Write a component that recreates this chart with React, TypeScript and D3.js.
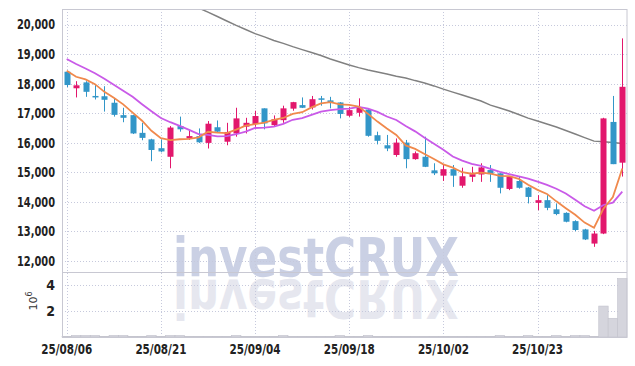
import { useEffect, useRef } from 'react';
import * as d3 from 'd3';

// trading days (yy/mm/dd)
const dates = [
  '25/08/06', '25/08/07', '25/08/08', '25/08/11', '25/08/12', '25/08/13', '25/08/14', '25/08/18', '25/08/19', '25/08/20',
  '25/08/21', '25/08/22', '25/08/25', '25/08/26', '25/08/27', '25/08/28', '25/08/29', '25/09/01', '25/09/02', '25/09/03',
  '25/09/04', '25/09/05', '25/09/08', '25/09/09', '25/09/10', '25/09/11', '25/09/12', '25/09/15', '25/09/16', '25/09/17',
  '25/09/18', '25/09/19', '25/09/22', '25/09/23', '25/09/24', '25/09/25', '25/09/26', '25/09/29', '25/09/30', '25/10/01',
  '25/10/02', '25/10/10', '25/10/13', '25/10/14', '25/10/15', '25/10/16', '25/10/17', '25/10/20', '25/10/21', '25/10/22',
  '25/10/23', '25/10/24', '25/10/27', '25/10/28', '25/10/29', '25/10/30', '25/10/31', '25/11/03', '25/11/04', '25/11/05',
];

const opens = [
  18400, 17840, 18040, 17580, 17570, 17350, 16930, 16930, 16330, 16110,
  15810, 15520, 16560, 16140, 16220, 15990, 16520, 16030, 16310, 16540,
  16630, 17160, 16590, 16760, 17150, 17270, 17190, 17500, 17430, 17360,
  16910, 17010, 17120, 16250, 15910, 15580, 16000, 15440, 15520, 15060,
  14880, 15100, 14540, 14840, 14920, 15070, 14960, 14430, 14700, 14480,
  13960, 14050, 13740, 13620, 13340, 13060, 12580, 12920, 16700, 15320,
];
const highs = [
  18420, 18080, 18080, 17980, 17910, 17500, 17180, 16940, 16670, 16130,
  16110, 16560, 16880, 16420, 16480, 16730, 16750, 16670, 17180, 16840,
  17080, 17160, 16920, 17250, 17380, 17530, 17580, 17580, 17550, 17370,
  17210, 17500, 17160, 16370, 16260, 16140, 16090, 15700, 16200, 15300,
  15240, 15240, 15150, 15180, 15300, 15240, 14960, 14850, 14840, 14500,
  14220, 14220, 13940, 13640, 13370, 13080, 13010, 16840, 17580, 19530,
];
const lows = [
  17880, 17530, 17550, 17460, 17050, 16880, 16690, 16290, 16080, 15370,
  15670, 15130, 16370, 16090, 15990, 15800, 16360, 15910, 16200, 16310,
  16540, 16450, 16540, 16670, 17080, 17170, 17120, 17250, 17160, 16820,
  16870, 16880, 16200, 15940, 15710, 15520, 15130, 15420, 15170, 14900,
  14700, 14500, 14470, 14670, 14670, 14670, 14280, 14390, 14440, 13940,
  13710, 13710, 13540, 13300, 13000, 12700, 12470, 12900, 15270, 14850,
];
const closes = [
  17950, 17940, 17720, 17530, 17450, 16940, 16840, 16310, 16160, 15750,
  15700, 16510, 16450, 16220, 16010, 16640, 16370, 16360, 16820, 16670,
  16900, 16650, 16790, 17160, 17370, 17180, 17470, 17470, 17370, 16970,
  17100, 17200, 16230, 16060, 15800, 16000, 15440, 15640, 15180, 14960,
  15100, 14880, 14860, 14930, 15160, 14930, 14470, 14840, 14470, 14160,
  14050, 13790, 13580, 13320, 13040, 12720, 12920, 16820, 15270, 17890,
];

// moving averages as shown on the chart
const ma5 = [
  18435, 18230, 18140, 17980, 17718, 17516, 17296, 17014, 16740, 16400,
  16152, 16086, 16114, 16126, 16178, 16366, 16338, 16320, 16440, 16572,
  16624, 16680, 16766, 16834, 16974, 17030, 17194, 17330, 17372, 17292,
  17276, 17222, 16974, 16712, 16478, 16258, 15906, 15788, 15612, 15444,
  15264, 15152, 14996, 14946, 14986, 14952, 14870, 14866, 14774, 14574,
  14398, 14262, 14010, 13780, 13556, 13290, 13116, 13764, 14154, 15124,
];
const ma10 = [
  18830, 18660, 18510, 18350, 18160, 17960, 17760, 17550, 17300, 17059,
  16834, 16691, 16564, 16433, 16289, 16259, 16212, 16217, 16283, 16375,
  16495, 16509, 16543, 16637, 16773, 16827, 16937, 17048, 17103, 17133,
  17153, 17208, 17152, 17042, 16885, 16767, 16564, 16381, 16162, 15961,
  15761, 15529, 15392, 15279, 15215, 15108, 15011, 14931, 14860, 14780,
  14675, 14566, 14438, 14277, 14065, 13844, 13689, 13887, 13967, 14340,
];
const maLong = [
  null, null, null, null, null, null, null, null, null, null,
  null, null, null, null, 20560, 20420, 20270, 20120, 19970, 19830,
  19690, 19580, 19460, 19360, 19250, 19150, 19050, 18950, 18830, 18730,
  18630, 18540, 18460, 18390, 18320, 18250, 18190, 18100, 18020, 17920,
  17810, 17710, 17610, 17510, 17410, 17270, 17170, 17070, 16950, 16830,
  16730, 16630, 16530, 16410, 16290, 16170, 16050, 16030, 16000, 15970,
];

// volume, millions of shares
const volumes = [
  0.05, 0.12, 0.12, 0.12, 0.05, 0.12, 0.12, 0.05, 0.05, 0.12,
  0.05, 0.12, 0.12, 0.05, 0.05, 0.05, 0.05, 0.05, 0.12, 0.05,
  0.05, 0.05, 0.05, 0.12, 0.05, 0.05, 0.05, 0.05, 0.05, 0.12,
  0.05, 0.05, 0.12, 0.05, 0.05, 0.05, 0.05, 0.05, 0.05, 0.05,
  0.05, 0.05, 0.05, 0.05, 0.05, 0.05, 0.12, 0.05, 0.05, 0.12,
  0.05, 0.05, 0.12, 0.05, 0.12, 0.12, 0.05, 2.38, 1.44, 4.5,
];

const priceTicks = [12000, 13000, 14000, 15000, 16000, 17000, 18000, 19000, 20000];
const volumeTicks = [2, 4];
const dateTicks = ['25/08/06', '25/08/21', '25/09/04', '25/09/18', '25/10/02', '25/10/23'];

const CandleChart = () => {
  const svgRef = useRef<SVGSVGElement>(null);

  useEffect(() => {
    if (!svgRef.current) return;

    const width = 635;
    const height = 366;
    const left = 62;
    const right = 627;
    const top = 9;
    const mid = 272;
    const bottom = 337;
    const font = "'DejaVu Sans Condensed', 'DejaVu Sans', sans-serif";
    const up = '#e2176c';
    const down = '#3296c8';

    const svg = d3.select(svgRef.current).attr('width', width).attr('height', height);
    svg.selectAll('*').remove();

    const x = d3.scaleBand<string>().domain(dates).range([left, right]).padding(0);
    const cx = (i: number) => x(dates[i])! + x.bandwidth() / 2;
    const y = d3.scaleLinear().domain([12000, 20000]).range([260.7, 24.5]);
    const yv = d3.scaleLinear().domain([0, 4]).range([bottom, 285]);

    svg.append('rect').attr('width', width).attr('height', height).attr('fill', '#fff');

    // watermark + reflection
    const wm = svg.append('g').attr('font-family', "'DejaVu Sans', sans-serif").attr('font-weight', 'bold');
    wm.append('text')
      .attr('x', 173).attr('y', 276)
      .attr('font-size', 54)
      .attr('textLength', 286).attr('lengthAdjust', 'spacingAndGlyphs')
      .attr('fill', '#cad0e4')
      .text('investCRUX');
    wm.append('text')
      .attr('transform', 'translate(0,556) scale(1,-1)')
      .attr('x', 173).attr('y', 276)
      .attr('font-size', 54)
      .attr('textLength', 286).attr('lengthAdjust', 'spacingAndGlyphs')
      .attr('fill', '#e6e7ef')
      .text('investCRUX');

    // grid
    const grid = svg.append('g').attr('stroke', '#c6c9dc').attr('stroke-dasharray', '1,2').attr('fill', 'none');
    grid.selectAll('.hp').data(priceTicks).join('line')
      .attr('x1', left).attr('x2', right)
      .attr('y1', (d) => Math.round(y(d)) + 0.5).attr('y2', (d) => Math.round(y(d)) + 0.5);
    grid.selectAll('.hv').data(volumeTicks).join('line')
      .attr('x1', left).attr('x2', right)
      .attr('y1', (d) => Math.round(yv(d)) + 0.5).attr('y2', (d) => Math.round(yv(d)) + 0.5);
    grid.selectAll('.vx').data(dateTicks).join('line')
      .attr('x1', (d) => Math.round(x(d)! + x.bandwidth() / 2) + 0.5)
      .attr('x2', (d) => Math.round(x(d)! + x.bandwidth() / 2) + 0.5)
      .attr('y1', top).attr('y2', bottom);

    // volume bars
    svg.append('g').selectAll('rect').data(volumes).join('rect')
      .attr('x', (_, i) => x(dates[i])!)
      .attr('width', x.bandwidth())
      .attr('y', (d) => yv(d))
      .attr('height', (d) => bottom - yv(d))
      .attr('fill', '#d5d5dd')
      .attr('stroke', '#c2c2cc')
      .attr('stroke-width', 0.6);

    // price panel
    svg.append('clipPath').attr('id', 'plot-clip')
      .append('rect').attr('x', left).attr('y', top).attr('width', right - left).attr('height', mid - top);
    const plot = svg.append('g').attr('clip-path', 'url(#plot-clip)');

    const line = d3.line<number | null>()
      .defined((d) => d != null)
      .x((_, i) => cx(i))
      .y((d) => y(d as number));

    plot.append('path').attr('d', line(maLong)).attr('fill', 'none').attr('stroke', '#808080').attr('stroke-width', 1.5);

    const candles = plot.append('g').selectAll('g').data(dates).join('g');
    candles.append('line')
      .attr('x1', (_, i) => Math.round(cx(i)) + 0.5)
      .attr('x2', (_, i) => Math.round(cx(i)) + 0.5)
      .attr('y1', (_, i) => y(highs[i]))
      .attr('y2', (_, i) => y(lows[i]))
      .attr('stroke', (_, i) => (closes[i] >= opens[i] ? up : down))
      .attr('stroke-width', 1);
    candles.append('rect')
      .attr('x', (_, i) => Math.round(cx(i)) + 0.5 - 3)
      .attr('width', 6)
      .attr('y', (_, i) => y(Math.max(opens[i], closes[i])))
      .attr('height', (_, i) => Math.max(1.5, Math.abs(y(opens[i]) - y(closes[i]))))
      .attr('fill', (_, i) => (closes[i] >= opens[i] ? up : down));

    plot.append('path').attr('d', line(ma10)).attr('fill', 'none').attr('stroke', '#c95ae8').attr('stroke-width', 1.8);
    plot.append('path').attr('d', line(ma5)).attr('fill', 'none').attr('stroke', '#f0894c').attr('stroke-width', 1.8);

    // frame
    const frame = svg.append('g').attr('stroke', '#c8c8d2').attr('fill', 'none');
    frame.append('rect').attr('x', left + 0.5).attr('y', top + 0.5).attr('width', right - left - 0.5).attr('height', bottom - top);
    frame.append('line').attr('x1', left).attr('x2', right).attr('y1', mid + 0.5).attr('y2', mid + 0.5);

    // axes
    const yAxis = svg.append('g').attr('transform', `translate(${left},0)`)
      .call(d3.axisLeft(y).tickValues(priceTicks).tickSize(0).tickPadding(7).tickFormat(d3.format(',')));
    const vAxis = svg.append('g').attr('transform', `translate(${left},0)`)
      .call(d3.axisLeft(yv).tickValues(volumeTicks).tickSize(0).tickPadding(7).tickFormat(d3.format('d')));
    const xAxis = svg.append('g').attr('transform', `translate(0,${bottom})`)
      .call(d3.axisBottom(x).tickValues(dateTicks).tickSize(0).tickPadding(7));
    [yAxis, vAxis, xAxis].forEach((a) => {
      a.select('.domain').remove();
      a.selectAll('text').attr('font-family', font).attr('font-size', 14).attr('font-weight', 'bold').attr('fill', '#222');
    });
    // the original face is a narrow one: squeeze to its widths
    yAxis.selectAll('text').attr('textLength', 38).attr('lengthAdjust', 'spacingAndGlyphs');
    xAxis.selectAll('text').attr('textLength', 51).attr('lengthAdjust', 'spacingAndGlyphs');

    const unit = svg.append('text')
      .attr('transform', 'translate(37,301) rotate(-90)')
      .attr('text-anchor', 'middle')
      .attr('font-family', "'DejaVu Sans', sans-serif")
      .attr('font-size', 11)
      .attr('fill', '#333');
    unit.append('tspan').text('10');
    unit.append('tspan').attr('dy', -5).attr('font-size', 8).text('6');
  }, []);

  return <svg ref={svgRef} style={{ position: 'absolute', left: 0, top: 0 }}></svg>;
};

export default function App() {
  return <CandleChart />;
}
